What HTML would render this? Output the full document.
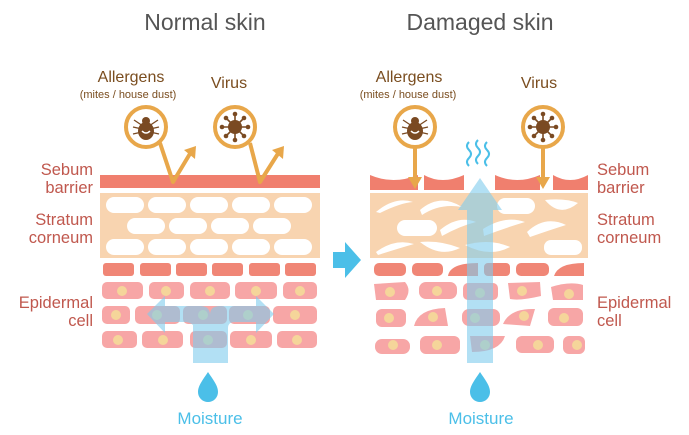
<!DOCTYPE html>
<html><head><style>body{margin:0;background:#fff}svg{display:block}text{font-family:"Liberation Sans",sans-serif}</style></head><body>
<svg width="689" height="435" viewBox="0 0 689 435" xmlns="http://www.w3.org/2000/svg">
<defs>
<g id="mite"><ellipse cx="0" cy="3" rx="8" ry="9" fill="#7a4a22"/><circle cx="0" cy="-7" r="4" fill="#7a4a22"/><path d="M-3 -2 L-12 -8 M-4 1 L-13 -1 M-4 4 L-13 6 M3 -2 L12 -8 M4 1 L13 -1 M4 4 L13 6" stroke="#7a4a22" stroke-width="1.3" fill="none"/><path d="M-4 3 Q0 7 4 3" stroke="#fff" stroke-width="1.5" fill="none"/></g>
<g id="virus"><g stroke="#7a4a22" stroke-width="1.6"><path d="M0 0 L0 -13 M0 0 L0 13 M0 0 L-13 0 M0 0 L13 0 M0 0 L-9 -9 M0 0 L9 9 M0 0 L-9 9 M0 0 L9 -9"/></g><circle r="7" fill="#7a4a22"/><g fill="#7a4a22"><circle cx="0" cy="-13" r="2.3"/><circle cx="0" cy="13" r="2.3"/><circle cx="-13" cy="0" r="2.3"/><circle cx="13" cy="0" r="2.3"/><circle cx="-9" cy="-9" r="2.3"/><circle cx="9" cy="9" r="2.3"/><circle cx="-9" cy="9" r="2.3"/><circle cx="9" cy="-9" r="2.3"/></g></g>
<path id="drop" d="M0 -14 C6 -5 10 0 10 6 A10 10 0 0 1 -10 6 C-10 0 -6 -5 0 -14Z" fill="#4bbfe8"/>
</defs>
<text x="205" y="30" font-size="23" fill="#555" text-anchor="middle">Normal skin</text>
<text x="480" y="30" font-size="23" fill="#555" text-anchor="middle">Damaged skin</text>
<g fill="#7a4d1f" text-anchor="middle">
<text x="131" y="82" font-size="16">Allergens</text><text x="128" y="98" font-size="11">(mites / house dust)</text><text x="229" y="88" font-size="16">Virus</text>
<text x="409" y="82" font-size="16">Allergens</text><text x="408" y="98" font-size="11">(mites / house dust)</text><text x="539" y="88" font-size="16">Virus</text>
</g>
<g fill="#c0584e" font-size="16.5">
<g text-anchor="end"><text x="93" y="175">Sebum</text><text x="93" y="193">barrier</text><text x="93" y="225">Stratum</text><text x="93" y="243">corneum</text><text x="93" y="308">Epidermal</text><text x="93" y="326">cell</text></g>
<text x="597" y="175">Sebum</text><text x="597" y="193">barrier</text><text x="597" y="225">Stratum</text><text x="597" y="243">corneum</text><text x="597" y="308">Epidermal</text><text x="597" y="326">cell</text>
</g>
<!-- LEFT -->
<rect x="100" y="175" width="220" height="13" fill="#f07f6e"/>
<rect x="100" y="193" width="220" height="65" fill="#f8d4b0"/>
<g fill="#fff">
<rect x="106" y="197" width="38" height="16" rx="8"/><rect x="148" y="197" width="38" height="16" rx="8"/><rect x="190" y="197" width="38" height="16" rx="8"/><rect x="232" y="197" width="38" height="16" rx="8"/><rect x="274" y="197" width="38" height="16" rx="8"/>
<rect x="127" y="218" width="38" height="16" rx="8"/><rect x="169" y="218" width="38" height="16" rx="8"/><rect x="211" y="218" width="38" height="16" rx="8"/><rect x="253" y="218" width="38" height="16" rx="8"/>
<rect x="106" y="239" width="38" height="16" rx="8"/><rect x="148" y="239" width="38" height="16" rx="8"/><rect x="190" y="239" width="38" height="16" rx="8"/><rect x="232" y="239" width="38" height="16" rx="8"/><rect x="274" y="239" width="38" height="16" rx="8"/>
</g>
<g fill="#f08676"><rect x="103" y="263" width="31" height="13" rx="3"/><rect x="140" y="263" width="31" height="13" rx="3"/><rect x="176" y="263" width="31" height="13" rx="3"/><rect x="212" y="263" width="31" height="13" rx="3"/><rect x="249" y="263" width="31" height="13" rx="3"/><rect x="285" y="263" width="31" height="13" rx="3"/></g>
<g fill="#f7a6a6">
<rect x="102" y="282" width="41" height="17" rx="5"/><rect x="149" y="282" width="35" height="17" rx="5"/><rect x="190" y="282" width="40" height="17" rx="5"/><rect x="235" y="282" width="42" height="17" rx="5"/><rect x="283" y="282" width="34" height="17" rx="5"/>
<rect x="102" y="306" width="28" height="18" rx="5"/><rect x="135" y="306" width="45" height="18" rx="5"/><rect x="183" y="306" width="44" height="18" rx="5"/><rect x="229" y="306" width="41" height="18" rx="5"/><rect x="273" y="306" width="44" height="18" rx="5"/>
<rect x="102" y="331" width="35" height="17" rx="5"/><rect x="142" y="331" width="41" height="17" rx="5"/><rect x="190" y="331" width="37" height="17" rx="5"/><rect x="230" y="331" width="42" height="17" rx="5"/><rect x="277" y="331" width="40" height="17" rx="5"/>
</g>
<g fill="#f5d59a">
<circle cx="122" cy="291" r="5"/><circle cx="166" cy="291" r="5"/><circle cx="210" cy="291" r="5"/><circle cx="256" cy="291" r="5"/><circle cx="300" cy="291" r="5"/>
<circle cx="116" cy="315" r="5"/><circle cx="157" cy="315" r="5"/><circle cx="203" cy="315" r="5"/><circle cx="248" cy="315" r="5"/><circle cx="295" cy="315" r="5"/>
<circle cx="118" cy="340" r="5"/><circle cx="163" cy="340" r="5"/><circle cx="208" cy="340" r="5"/><circle cx="251" cy="340" r="5"/><circle cx="297" cy="340" r="5"/>
</g>
<path d="M193 363 L193 325 Q190 322 185 322 L165 322 L165 333 L147 314 L165 296 L165 306 L200 306 Q210 306 210 315 Q210 306 220 306 L256 306 L256 296 L274 314 L256 333 L256 322 L235 322 Q228 322 228 328 L228 363Z" fill="#7fcbec" opacity="0.6"/>
<use href="#drop" x="208" y="386"/>
<text x="210" y="424" font-size="17" fill="#4bbfe8" text-anchor="middle">Moisture</text>
<!-- left icons -->
<g fill="none" stroke="#e8a74a" stroke-width="4" stroke-linejoin="round">
<path d="M160 143 L173 182 L191 152"/><path d="M250 143 L260 182 L279 152"/>
<circle cx="146" cy="127" r="20" fill="#fff"/><circle cx="235" cy="127" r="20" fill="#fff"/>
</g>
<path d="M184 150 L196 146 L195 159Z" fill="#e8a74a"/><path d="M272 150 L284 146 L283 159Z" fill="#e8a74a"/>
<use href="#mite" x="146" y="128"/><use href="#virus" x="235" y="127"/>
<!-- middle arrow -->
<path d="M333 252 L345 252 L345 242 L361 260 L345 278 L345 268 L333 268Z" fill="#4bbfe8"/>
<!-- RIGHT -->
<g fill="#f07f6e">
<path d="M370 175 Q393 185 418 175 L418 190 L370 190Z"/><path d="M424 175 Q442 185 464 175 L464 190 L424 190Z"/><path d="M495 175 Q517 185 540 175 L540 190 L495 190Z"/><path d="M553 175 Q570 185 588 175 L588 190 L553 190Z"/>
</g>
<rect x="370" y="193" width="218" height="65" fill="#f8d4b0"/>
<g fill="#fff">
<path d="M376 212 Q395 196 413 202 Q400 203 380 213Z"/><path d="M420 210 Q440 193 462 207 Q440 203 422 215Z"/><rect x="497" y="198" width="38" height="16" rx="8"/><path d="M545 200 Q565 198 578 203 Q560 218 545 200Z"/>
<rect x="397" y="220" width="40" height="16" rx="8"/><path d="M440 230 Q458 215 476 222 Q460 226 442 236Z"/><path d="M483 229 Q505 215 525 222 Q505 228 484 236Z"/><path d="M527 232 Q545 215 566 225 Q550 230 530 237Z"/>
<path d="M376 252 Q395 238 414 244 Q400 248 378 255Z"/><path d="M420 242 Q440 258 460 248 Q440 240 420 242Z"/><path d="M465 245 Q490 258 510 247 Q490 238 465 245Z"/><rect x="544" y="240" width="38" height="15" rx="7"/>
</g>
<g fill="#f08676"><rect x="374" y="263" width="32" height="13" rx="5"/><rect x="412" y="263" width="31" height="13" rx="5"/><path d="M448 276 Q450 263 478 263 L478 276Z"/><rect x="484" y="263" width="26" height="13" rx="4"/><rect x="516" y="263" width="33" height="13" rx="5"/><path d="M554 276 Q558 263 584 263 L584 276Z"/></g>
<g fill="#f7a6a6">
<path d="M374 284 L405 282 Q412 290 405 300 L376 300Z"/><rect x="419" y="282" width="38" height="17" rx="7"/><rect x="463" y="283" width="35" height="17" rx="5"/><path d="M508 283 L540 282 L541 296 Q520 301 510 299Z"/><path d="M551 287 Q570 281 583 285 L583 300 L553 300Z"/>
<rect x="376" y="309" width="30" height="18" rx="6"/><path d="M414 326 Q418 309 445 308 L448 326Z"/><rect x="462" y="309" width="38" height="17" rx="7"/><path d="M503 324 Q510 308 535 309 L530 326Z"/><rect x="548" y="308" width="35" height="18" rx="6"/>
<rect x="375" y="339" width="35" height="15" rx="7"/><rect x="420" y="336" width="40" height="18" rx="6"/><path d="M470 336 L505 336 Q500 352 472 352Z"/><rect x="516" y="336" width="38" height="17" rx="6"/><rect x="563" y="336" width="22" height="18" rx="6"/>
</g>
<g fill="#f5d59a">
<circle cx="390" cy="292" r="5"/><circle cx="437" cy="291" r="5"/><circle cx="480" cy="293" r="5"/><circle cx="522" cy="291" r="5"/><circle cx="569" cy="294" r="5"/>
<circle cx="389" cy="318" r="5"/><circle cx="433" cy="317" r="5"/><circle cx="475" cy="318" r="5"/><circle cx="524" cy="316" r="5"/><circle cx="564" cy="318" r="5"/>
<circle cx="393" cy="345" r="5"/><circle cx="437" cy="345" r="5"/><circle cx="485" cy="345" r="5"/><circle cx="538" cy="345" r="5"/><circle cx="577" cy="345" r="5"/>
</g>
<path d="M467 363 L467 210 L458 210 L480 178 L502 210 L493 210 L493 363Z" fill="#7fcbec" opacity="0.6"/>
<g fill="none" stroke="#4bbfe8" stroke-width="2"><path d="M469 142 q-4 4 0 8 q4 4 0 8 q-4 4 0 8"/><path d="M478 140 q-4 4 0 8 q4 4 0 8 q-4 4 0 8"/><path d="M487 142 q-4 4 0 8 q4 4 0 8 q-4 4 0 8"/></g>
<use href="#drop" x="480" y="386"/>
<text x="481" y="424" font-size="17" fill="#4bbfe8" text-anchor="middle">Moisture</text>
<g fill="none" stroke="#e8a74a" stroke-width="4"><path d="M415 145 L415 178"/><path d="M543 145 L543 178"/>
<circle cx="415" cy="127" r="20" fill="#fff"/><circle cx="543" cy="127" r="20" fill="#fff"/></g>
<path d="M408 177 L422 177 L415 189Z M536 177 L550 177 L543 189Z" fill="#e8a74a"/>
<use href="#mite" x="415" y="128"/><use href="#virus" x="543" y="127"/>
</svg>
</body></html>
